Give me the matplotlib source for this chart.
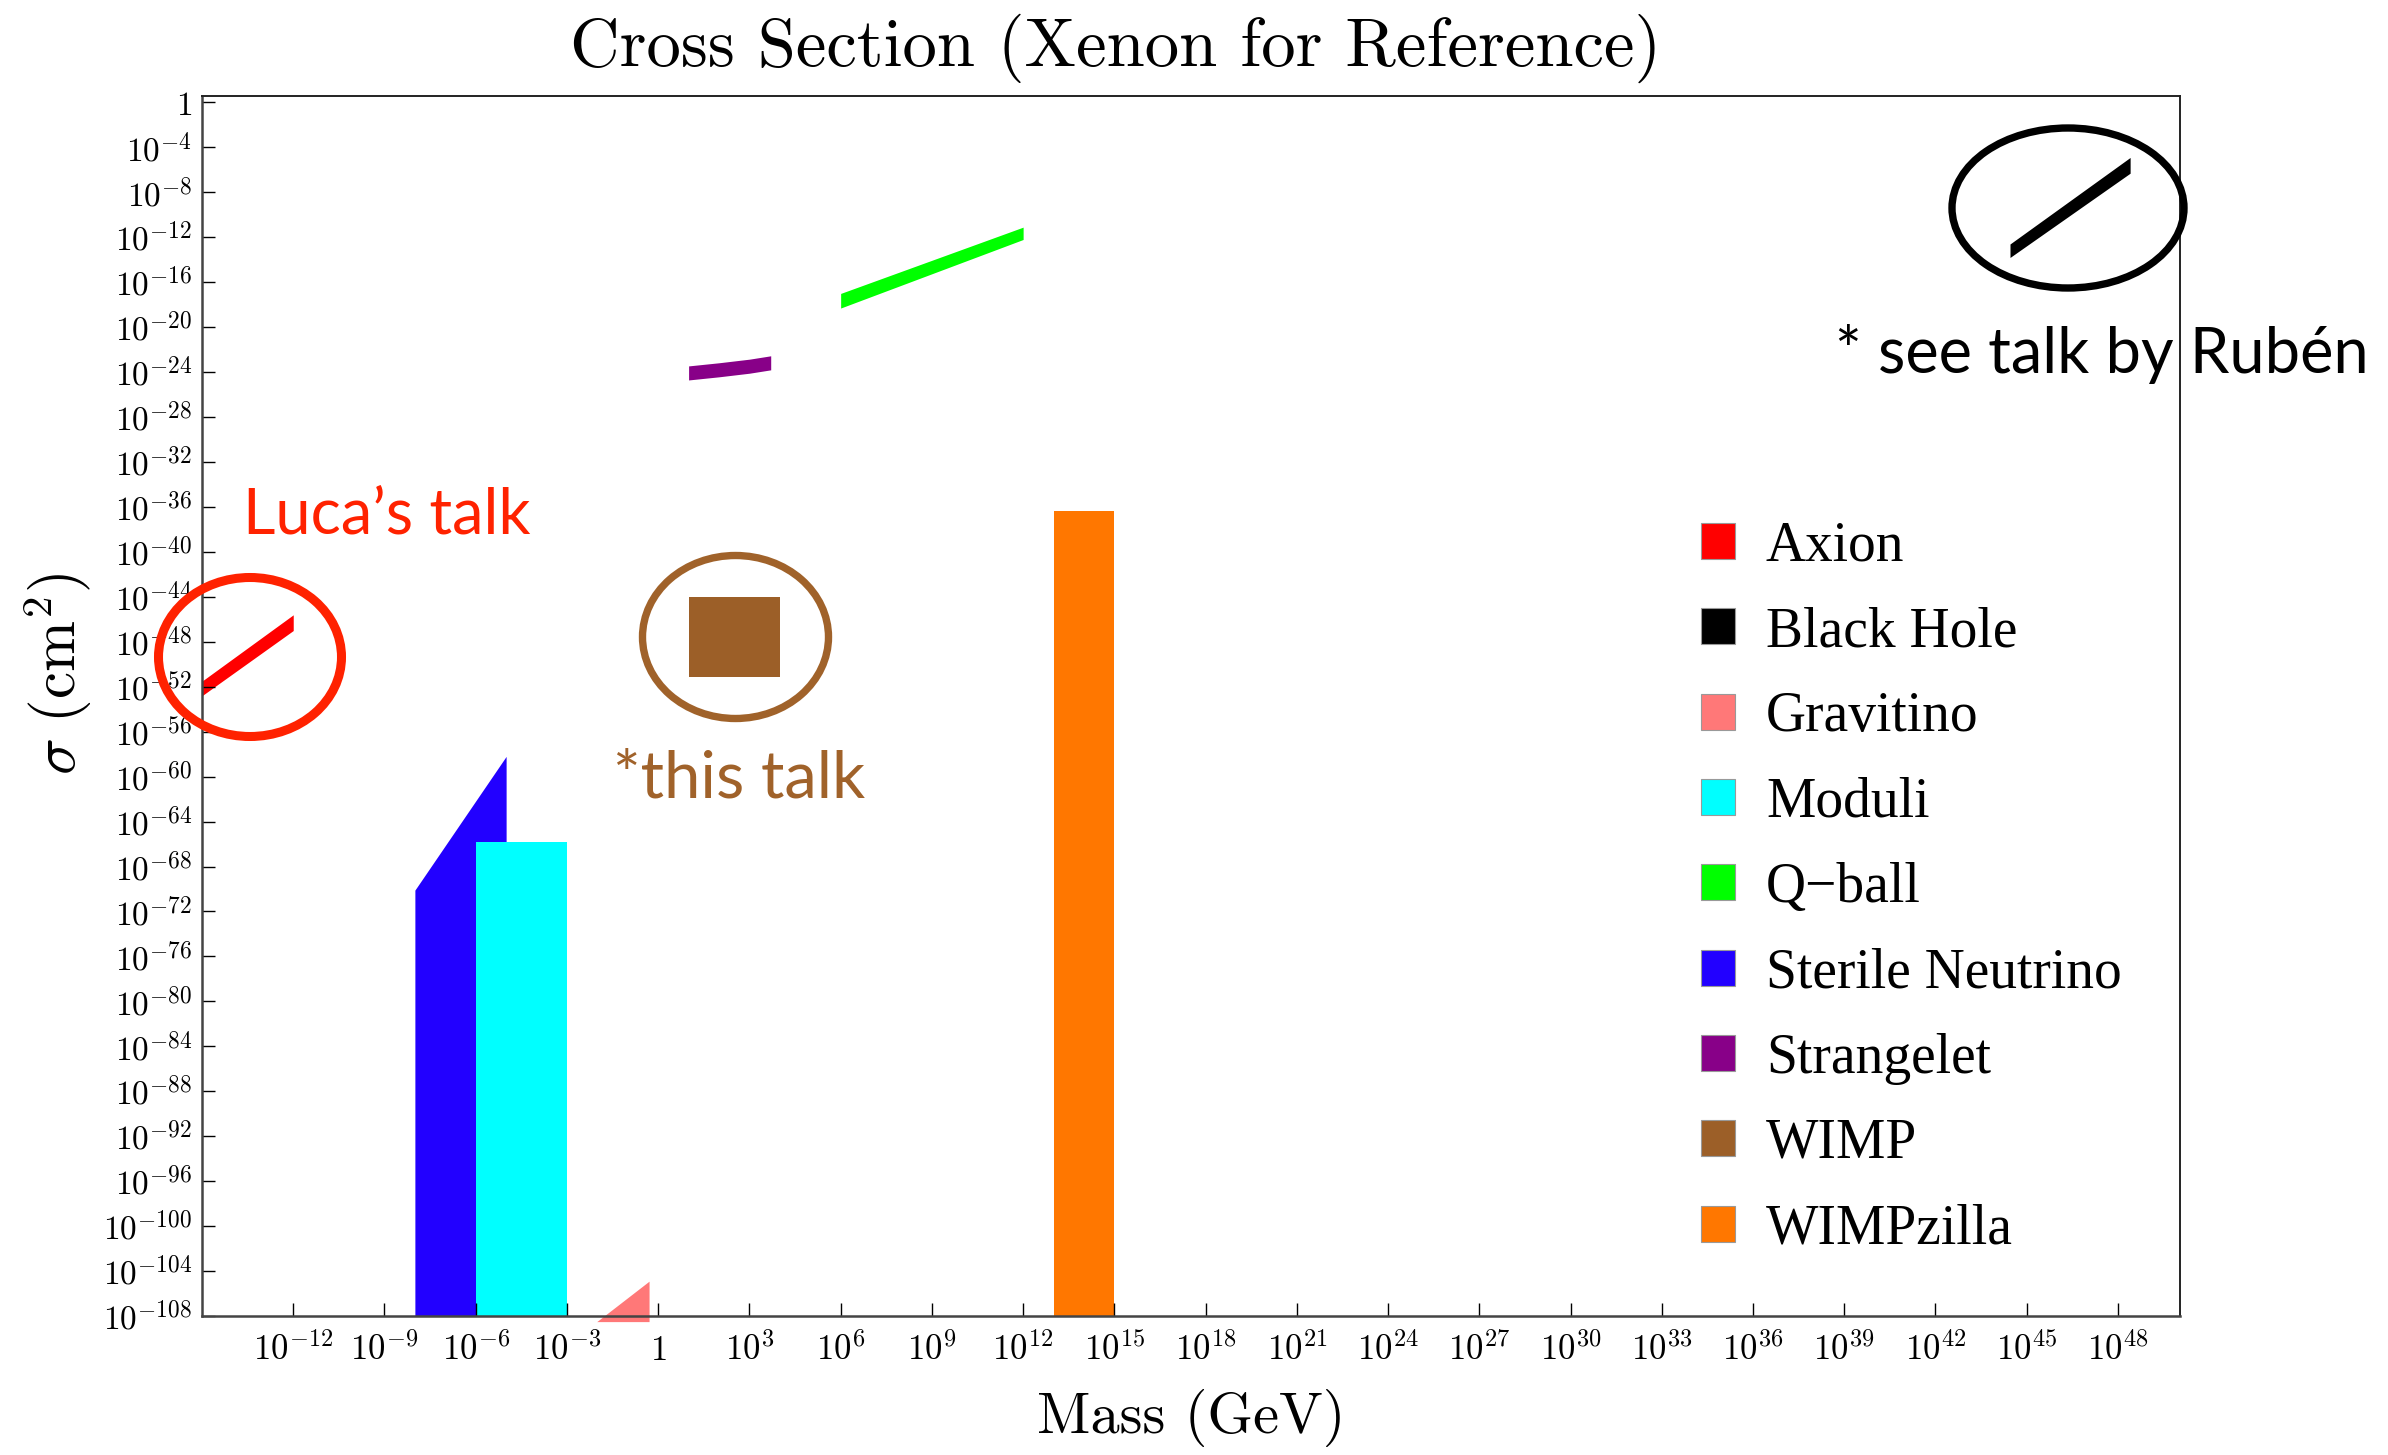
import numpy as np
import matplotlib
matplotlib.use('Agg')
import matplotlib.pyplot as plt
from matplotlib.patches import Patch, Ellipse

plt.rcParams['mathtext.fontset'] = 'cm'


# Legend order, colours
names  = ['Axion', 'Black Hole', 'Gravitino', 'Moduli', 'Q\u2212ball',
          'Sterile Neutrino', 'Strangelet', 'WIMP', 'WIMPzilla']
colors = ['#ff0000', '#000000', '#ff7878', '#00ffff', '#00ff00',
          '#2200ff', '#880088', '#9c5f28', '#ff7700']

# Regions, all as log10(mass / GeV) and log10(sigma / cm^2)
axion_m  = [-15, -12]
axion_lo = [-52.8, -47.0]
axion_hi = [-51.5, -45.6]

bh_m  = [44.45, 48.4]
bh_lo = [-13.8, -6.3]
bh_hi = [-12.6, -4.9]

grav_m  = [-2.02, -0.3]
grav_lo = [-108.5, -108.5]
grav_hi = [-108.5, -104.9]

moduli_m  = [-6, -3]
moduli_lo = [-108, -108]
moduli_hi = [-65.8, -65.8]

qball_m  = [6, 12]
qball_lo = [-18.3, -12.2]
qball_hi = [-17.0, -11.1]

sterile_m  = [-8, -5]
sterile_lo = [-108, -108]
sterile_hi = [-70.1, -58.2]

strange_m  = [1, 2, 3, 3.7]
strange_lo = [-24.7, -24.42, -24.1, -23.8]
strange_hi = [-23.45, -23.17, -22.85, -22.55]

wimp_m  = [1, 4]
wimp_lo = [-51.1, -51.1]
wimp_hi = [-44.0, -44.0]

zilla_m  = [13, 15]
zilla_lo = [-108, -108]
zilla_hi = [-36.4, -36.4]

xtick_exp = list(range(-12, 49, 3))
ytick_exp = list(range(0, -109, -4))


def band(ax, logm, lo, hi, color, clip=True):
    ax.fill_between(10.0**np.array(logm), 10.0**np.array(lo),
                    10.0**np.array(hi), color=color, lw=0, clip_on=clip)


def pow_label(e):
    if e == 0:
        return '$1$'
    return '$10^{%d}$' % e


W, H = 2388, 1455
fig = plt.figure(figsize=(W / 100, H / 100), dpi=100)
ax = fig.add_axes([202 / W, 1 - 1316 / H, 1978 / W, 1220 / H])
ax.set_xscale('log')
ax.set_yscale('log')

# draw order: sterile before moduli so cyan sits on top
band(ax, axion_m, axion_lo, axion_hi, colors[0])
band(ax, bh_m, bh_lo, bh_hi, colors[1])
band(ax, grav_m, grav_lo, grav_hi, colors[2], clip=False)  # pokes below axis in original
band(ax, sterile_m, sterile_lo, sterile_hi, colors[5])
band(ax, moduli_m, moduli_lo, moduli_hi, colors[3])
band(ax, qball_m, qball_lo, qball_hi, colors[4])
band(ax, strange_m, strange_lo, strange_hi, colors[6])
band(ax, wimp_m, wimp_lo, wimp_hi, colors[7])
band(ax, zilla_m, zilla_lo, zilla_hi, colors[8])

ax.set_xlim(10.0**-15, 10.0**50.04)
ax.set_ylim(10.0**-108, 10.0**0.57)
ax.minorticks_off()
ax.set_xticks([10.0**e for e in xtick_exp])
ax.set_xticklabels([pow_label(e) for e in xtick_exp])
ax.set_yticks([10.0**e for e in ytick_exp])
ax.set_yticklabels([pow_label(e) for e in ytick_exp])
ax.tick_params(axis='both', direction='in', length=9.5, width=1.0,
               top=False, right=False)
ax.tick_params(axis='x', pad=12, labelsize=25)
ax.tick_params(axis='y', pad=7, labelsize=24)
for side in ['left', 'bottom']:
    ax.spines[side].set_linewidth(1.8)
    ax.spines[side].set_color('#444444')
for side in ['top', 'right']:
    ax.spines[side].set_linewidth(1.4)
    ax.spines[side].set_color('#222222')

# titles and axis labels
fig.text(1116 / W, 1 - 48 / H, 'Cross Section (Xenon for Reference)',
         family='cmr10', fontsize=49.5, ha='center', va='center')
fig.text(1191 / W, 1 - 1418 / H, 'Mass (GeV)', family='cmr10',
         fontsize=42, ha='center', va='center')
fig.text(58 / W, 1 - 674 / H, r'$\sigma\ (\mathrm{cm}^2)$', fontsize=44,
         rotation=90, ha='center', va='center')

# legend
handles = [Patch(facecolor=c, edgecolor='#999999', lw=0.8) for c in colors]
ax.legend(handles, names, loc='center left',
          bbox_to_anchor=(1701 / W, 1 - 888 / H), bbox_transform=fig.transFigure,
          frameon=False, borderpad=0, borderaxespad=0,
          handlelength=0.62, handleheight=0.62, handletextpad=0.55,
          labelspacing=0.6, prop={'family': 'Liberation Serif', 'size': 40})

# talk annotations
sans = 'Lato'
fig.text(243 / W, 1 - 534 / H, 'Luca\u2019s talk', family=sans, fontsize=45.5,
         color='#ff2200', va='baseline')
fig.text(613 / W, 1 - 797 / H, '*this talk', family=sans, fontsize=47,
         color='#a0622a', va='baseline')
fig.text(1835 / W, 1 - 373 / H, '* see talk by Rub\u00e9n', family=sans,
         fontsize=45.5, color='black', va='baseline')

fig.add_artist(Ellipse((250 / W, 1 - 657 / H), 183 / W, 159 / H,
                       transform=fig.transFigure, fill=False,
                       edgecolor='#ff2200', lw=6.5))
fig.add_artist(Ellipse((735.5 / W, 1 - 637 / H), 186 / W, 163 / H,
                       transform=fig.transFigure, fill=False,
                       edgecolor='#a0622a', lw=5.3))
fig.add_artist(Ellipse((2068 / W, 1 - 208 / H), 232 / W, 160 / H,
                       transform=fig.transFigure, fill=False,
                       edgecolor='black', lw=5.3))

fig.savefig('out.png', dpi=100)
